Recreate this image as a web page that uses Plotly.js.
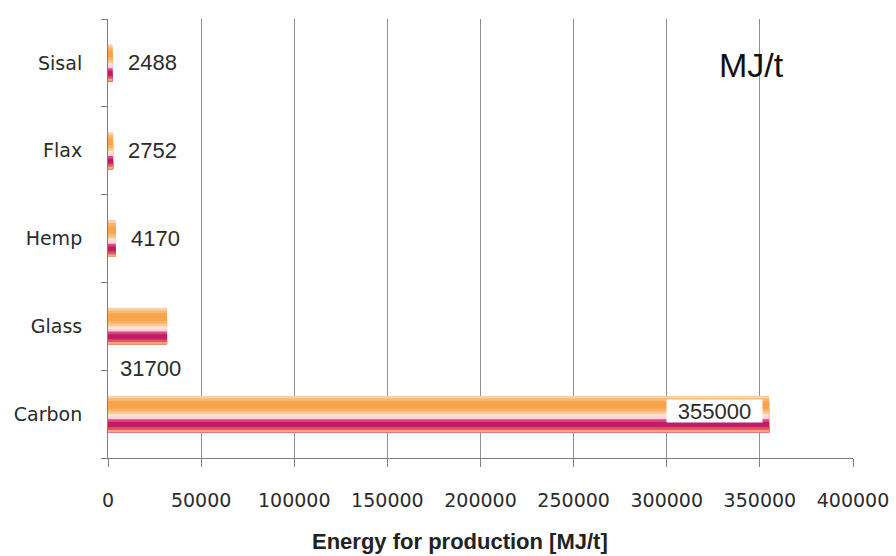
<!DOCTYPE html>
<html>
<head>
<meta charset="utf-8">
<script src="https://cdn.plot.ly/plotly-3.0.1.min.js"></script>
<style>
  html, body { margin: 0; padding: 0; background: #fff; }
  #chart { width: 896px; height: 556px; }
</style>
</head>
<body>
<div id="chart"></div>
<script>
// Fibre types, bottom to top on the category axis
const fibres = ['Carbon', 'Glass', 'Hemp', 'Flax', 'Sisal'];
// Energy needed to produce one tonne of fibre, MJ/t
const energy = [355000, 31700, 4170, 2752, 2488];
const xTicks = [0, 50000, 100000, 150000, 200000, 250000, 300000, 350000, 400000];

// Each bar is shaded top to bottom: orange, pale pink, magenta, orange rim.
// Layers are drawn top-first; each one reaches down to the bar's bottom edge
// and the next layer covers its lower part, so no seams show between bands.
const bandColours = [
  '#fcd2a4', '#fab86e', '#f8a750', '#f8a24a', '#f8a54e', '#f9b265',
  '#fbc995', '#fde2d6', '#fad2d8', '#d6487e', '#c11a68', '#c41e68',
  '#da5a60', '#f1a878'
];
const barWidth = 0.42;
const bandW = barWidth / bandColours.length;

const traces = bandColours.map((c, i) => ({
  type: 'bar',
  orientation: 'h',
  x: energy,
  y: fibres,
  width: barWidth - i * bandW,
  offset: -barWidth / 2,
  marker: { color: c, line: { width: 0 } },
  hoverinfo: 'skip',
  showlegend: false
}));

const labelFont = { family: 'Liberation Sans, Arial, sans-serif', size: 22, color: '#2b2b2b' };

const annotations = [];
fibres.forEach((f, i) => {
  const v = energy[i];
  if (f === 'Carbon') {
    annotations.push({
      x: v, y: f, xref: 'x', yref: 'y', text: String(v), showarrow: false,
      xanchor: 'right', yanchor: 'middle', xshift: -6, yshift: 3,
      bgcolor: '#ffffff', borderpad: 0, width: 95, height: 22, font: labelFont
    });
  } else if (f === 'Glass') {
    annotations.push({
      x: v, y: f, xref: 'x', yref: 'y', text: String(v), showarrow: false,
      xanchor: 'center', yanchor: 'middle', xshift: -17, yshift: -42, font: labelFont
    });
  } else {
    annotations.push({
      x: v, y: f, xref: 'x', yref: 'y', text: String(v), showarrow: false,
      xanchor: 'left', yanchor: 'middle', xshift: 13, yshift: 0, font: labelFont
    });
  }
});

// Unit label in the upper right
annotations.push({
  xref: 'paper', yref: 'paper', x: 0.864, y: 0.895, text: 'MJ/t', showarrow: false,
  xanchor: 'center', yanchor: 'middle',
  font: { family: 'Liberation Sans, Arial, sans-serif', size: 34, color: '#111111' }
});
// Axis caption under the tick labels
annotations.push({
  xref: 'paper', yref: 'paper', x: 0.4725, y: -0.191, text: '<b>Energy for production [MJ/t]</b>',
  showarrow: false, xanchor: 'center', yanchor: 'middle',
  font: { family: 'Liberation Sans Narrow, Arial Narrow, Liberation Sans, sans-serif', size: 22, color: '#222222' }
});

const layout = {
  width: 896, height: 556,
  margin: { l: 108, r: 43, t: 19, b: 98, pad: 0 },
  paper_bgcolor: '#ffffff',
  plot_bgcolor: '#ffffff',
  barmode: 'overlay',
  showlegend: false,
  xaxis: {
    range: [0, 400000],
    tickvals: xTicks,
    ticktext: xTicks.map(String),
    showgrid: true, gridcolor: '#8f8f8f', gridwidth: 1,
    zeroline: false,
    showline: true, linecolor: '#7f7f7f', linewidth: 1,
    ticks: 'outside', ticklen: 8, tickcolor: '#7f7f7f',
    ticklabelstandoff: 17,
    tickfont: { family: 'DejaVu Sans, sans-serif', size: 19, color: '#2b2b2b' },
    fixedrange: true
  },
  yaxis: {
    type: 'category',
    categoryorder: 'array',
    categoryarray: fibres,
    range: [-0.5, fibres.length - 0.5],
    tickson: 'boundaries',
    ticks: 'outside', ticklen: 6, tickcolor: '#7f7f7f',
    showline: true, linecolor: '#7f7f7f', linewidth: 1,
    showgrid: false, zeroline: false,
    ticklabelstandoff: 21,
    tickfont: { family: 'DejaVu Sans, sans-serif', size: 19, color: '#2b2b2b' },
    fixedrange: true
  },
  annotations: annotations
};

Plotly.newPlot('chart', traces, layout, { displayModeBar: false, staticPlot: true });
</script>
</body>
</html>
